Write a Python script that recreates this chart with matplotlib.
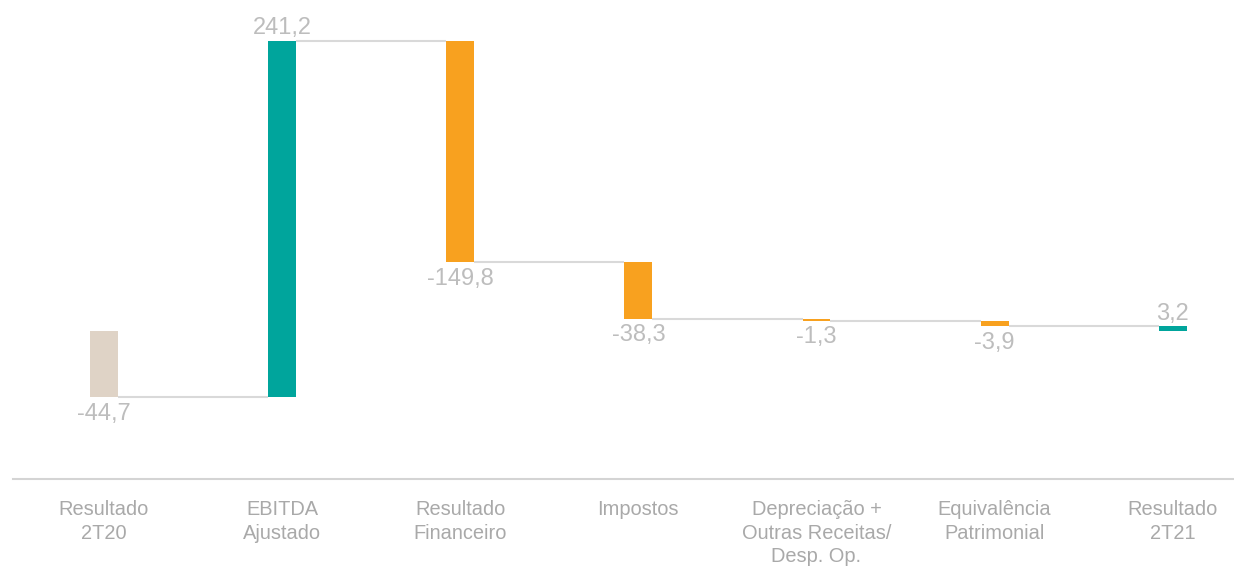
import numpy as np
import matplotlib.pyplot as plt

# Waterfall: Resultado 2T20 -> Resultado 2T21 (R$ milhões)
categories = ['Resultado\n2T20', 'EBITDA\nAjustado', 'Resultado\nFinanceiro', 'Impostos',
              'Depreciação +\nOutras Receitas/\nDesp. Op.', 'Equivalência\nPatrimonial',
              'Resultado\n2T21']
values = [-44.7, 241.2, -149.8, -38.3, -1.3, -3.9, 3.2]
kinds = ['total', 'delta', 'delta', 'delta', 'delta', 'delta', 'total']

BEIGE = '#dfd3c6'
TEAL = '#00a59c'
ORANGE = '#f8a11f'
LINE = '#d9d9d9'
LABEL = '#bdbdbd'
TICK = '#a9a9a9'

plt.rcParams['font.family'] = ['Liberation Sans', 'DejaVu Sans']

fig = plt.figure(figsize=(12.34, 5.68), dpi=100)
ax = fig.add_axes([0.0105, 0.1567, 0.9885, 0.8433])

x = np.arange(len(categories))
width = 0.157

# bar bottoms / tops from the running total
bottoms, tops, colors = [], [], []
running = 0.0
for i, (v, k) in enumerate(zip(values, kinds)):
    if k == 'total':
        lo, hi = 0.0, v
        running = v
        c = BEIGE if i == 0 else TEAL
    else:
        lo, hi = running, running + v
        running += v
        c = TEAL if v > 0 else ORANGE
    bottoms.append(lo)
    tops.append(hi)
    colors.append(c)

bottoms = np.array(bottoms)
tops = np.array(tops)
ax.bar(x, tops - bottoms, bottom=bottoms, width=width, color=colors, zorder=3)

# connectors between consecutive bars
for i in range(len(x) - 1):
    level = tops[i]
    ax.plot([x[i] + width / 2, x[i + 1] - width / 2], [level, level],
            color=LINE, lw=1.5, zorder=2, solid_capstyle='butt')

# value labels
for i, v in enumerate(values):
    txt = f'{v:.1f}'.replace('.', ',')
    if v < 0:
        y = min(bottoms[i], tops[i])
        ax.annotate(txt, (x[i], y), xytext=(0, -4), textcoords='offset points',
                    ha='center', va='top', fontsize=17, color=LABEL)
    else:
        y = max(bottoms[i], tops[i])
        ax.annotate(txt, (x[i], y), xytext=(0, 1), textcoords='offset points',
                    ha='center', va='bottom', fontsize=17, color=LABEL)

ax.set_xlim(-0.511, 6.337)
ax.set_ylim(-100, 224)
ax.set_xticks(x)
ax.set_xticklabels(categories, fontsize=14.4, color=TICK, linespacing=1.32)
ax.tick_params(axis='x', length=0, pad=15)
ax.set_yticks([])
for side in ['top', 'left', 'right']:
    ax.spines[side].set_visible(False)
ax.spines['bottom'].set_color('#d4d4d4')
ax.spines['bottom'].set_linewidth(1.5)

fig.savefig('out.png', dpi=100)
